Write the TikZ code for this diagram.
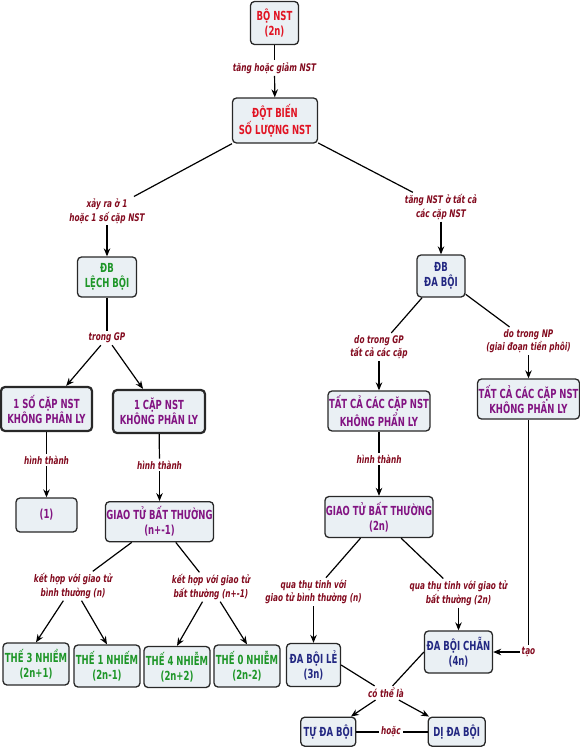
\documentclass[tikz,border=0pt]{standalone}
\usepackage{fontspec}
\newfontfamily\bxf{DejaVu Sans}[FakeStretch=0.68]
\newfontfamily\lbf{DejaVu Sans}[FakeStretch=0.7]
\usetikzlibrary{arrows.meta}
\definecolor{redc}{RGB}{225,20,35}
\definecolor{greenc}{RGB}{30,150,40}
\definecolor{navyc}{RGB}{35,40,130}
\definecolor{purplec}{RGB}{130,20,130}
\definecolor{lblc}{RGB}{130,10,30}
\definecolor{fillc}{RGB}{234,240,244}
\definecolor{bordc}{RGB}{40,40,40}
\tikzset{
  box/.style={draw=bordc, fill=fillc, rounded corners=4pt, line width=1.3pt, align=center,
    font=\bxf\bfseries\fontsize{12.5}{15}\selectfont, inner sep=1pt},
  thickbox/.style={box, line width=2.2pt},
  sz/.style 2 args={minimum width=#1pt, minimum height=#2pt},
  lbl/.style={text=lblc, align=center, font=\lbf\bfseries\itshape\fontsize{10.5}{13.5}\selectfont, inner sep=2pt},
  conn/.style={line width=1.2pt, draw=black},
  arr/.style={conn, -{Stealth[length=8pt,width=6.5pt]}},
}
\begin{document}
\begin{tikzpicture}[x=1pt,y=-1pt]
\useasboundingbox (0,0) rectangle (580,747);
% boxes
\node[box, text=redc, sz={48}{43}] (bo) at (274.5,23) {BỘ NST\\(2n)};
\node[box, text=redc, sz={85}{45}] (dotbien) at (275,120.5) {ĐỘT BIẾN\\SỐ LƯỢNG NST};
\node[box, text=greenc, sz={59}{40}] (lechboi) at (107,277) {ĐB\\LỆCH BỘI};
\node[box, text=navyc, sz={48}{42}] (daboi) at (441,276) {ĐB\\ĐA BỘI};
\node[thickbox, text=purplec, sz={91}{44}] (motso) at (46.5,409) {1 SỐ CẶP NST\\KHÔNG PHÂN LY};
\node[thickbox, text=purplec, sz={92}{43}] (motcap) at (159,411.5) {1 CẶP NST\\KHÔNG PHÂN LY};
\node[box, text=purplec, sz={100}{40}] (tatcaGP) at (379,411) {TẤT CẢ CÁC CẶP NST\\KHÔNG PHẨN LY};
\node[box, text=purplec, sz={100}{40}] (tatcaNP) at (528.5,399) {TẤT CẢ CÁC CẶP NST\\KHÔNG PHÂN LY};
\node[box, text=purplec, sz={61}{34}] (one) at (46.5,515) {(1)};
\node[box, text=purplec, sz={107}{40}] (gtn1) at (159.5,521.7) {GIAO TỬ BẤT THƯỜNG\\(n+-1)};
\node[box, text=purplec, sz={108}{41}] (gt2n) at (379,517) {GIAO TỬ BẤT THƯỜNG\\(2n)};
\node[box, text=greenc, sz={66}{42}] (the3) at (36,664) {THẾ 3 NHIỀM\\(2n+1)};
\node[box, text=greenc, sz={66}{42}] (the1) at (107,666) {THẾ 1 NHIẾM\\(2n-1)};
\node[box, text=greenc, sz={66}{41}] (the4) at (177,667) {THẾ 4 NHIỄM\\(2n+2)};
\node[box, text=greenc, sz={66}{42}] (the0) at (247,666) {THẾ 0 NHIỄM\\(2n-2)};
\node[box, text=navyc, sz={54}{43}] (le) at (313.5,665) {ĐA BỘI LẺ\\(3n)};
\node[box, text=navyc, sz={68}{42}] (chan) at (458.5,652) {ĐA BỘI CHẴN\\(4n)};
\node[box, text=navyc, sz={55}{29}] (tu) at (328.3,731.7) {TỰ ĐA BỘI};
\node[box, text=navyc, sz={57}{29}] (di) at (456.7,731.7) {DỊ ĐA BỘI};
% labels
\node[lbl] (l1) at (274.5,68) {tăng hoặc giảm NST};
\node[lbl] (l2) at (107,211) {xảy ra ở 1\\hoặc 1 số cặp NST};
\node[lbl] (l3) at (441,207) {tăng NST ở tất cả\\các cặp NST};
\node[lbl] (l4) at (107,338) {trong GP};
\node[lbl] (l5) at (379,347) {do trong GP\\tất cả các cặp};
\node[lbl] (l6) at (528.5,341) {do trong NP\\(giai đoạn tiền phôi)};
\node[lbl] (l7) at (46.5,460) {hình thành};
\node[lbl] (l8) at (159.5,465) {hình thành};
\node[lbl] (l9) at (379,459) {hình thành};
\node[lbl] (l10) at (73,586) {kết hợp với giao tử\\bình thường (n)};
\node[lbl] (l11) at (211,587) {kết hợp với giao tử\\bất thường (n+-1)};
\node[lbl] (l12) at (313.5,592) {qua thụ tinh với\\giao tử bình thường (n)};
\node[lbl] (l13) at (458.5,593) {qua thụ tinh với giao tử\\bất thường (2n)};
\node[lbl] (l14) at (528.5,652) {tạo};
\node[lbl] (l15) at (386,693) {có thể là};
\node[lbl] (l16) at (391,731.7) {hoặc};
% connectors
\draw[conn] (bo) -- (l1); \draw[arr] (l1) -- (dotbien);
\draw[conn] (dotbien) -- (l2); \draw[arr] (l2) -- (lechboi);
\draw[conn] (dotbien) -- (l3); \draw[arr] (l3) -- (daboi);
\draw[conn] (lechboi) -- (l4); \draw[arr] (l4) -- (motso); \draw[arr] (l4) -- (motcap);
\draw[conn] (daboi) -- (l5); \draw[arr] (l5) -- (tatcaGP);
\draw[conn] (daboi) -- (l6); \draw[arr] (l6) -- (tatcaNP);
\draw[conn] (motso) -- (l7); \draw[arr] (l7) -- (one);
\draw[conn] (motcap) -- (l8); \draw[arr] (l8) -- (gtn1);
\draw[conn] (tatcaGP) -- (l9); \draw[arr] (l9) -- (gt2n);
\draw[conn] (gtn1) -- (l10); \draw[arr] (l10) -- (the3.north); \draw[arr] (l10) -- (the1.north);
\draw[conn] (gtn1) -- (l11); \draw[arr] (l11) -- (the4.north); \draw[arr] (l11) -- (the0.north);
\draw[conn] (gt2n) -- (l12); \draw[arr] (l12) -- (le);
\draw[conn] (gt2n) -- (l13); \draw[arr] (l13) -- (chan);
\draw[conn] (tatcaNP) -- (l14); \draw[arr] (l14) -- (chan);
\draw[conn] (le.east) -- (l15); \draw[conn] (chan.west) -- (l15);
\draw[arr] (l15) -- (tu); \draw[arr] (l15) -- (di);
\draw[conn, line width=2pt] (tu) -- (l16); \draw[conn, line width=2pt] (l16) -- (di);
\end{tikzpicture}
\end{document}
